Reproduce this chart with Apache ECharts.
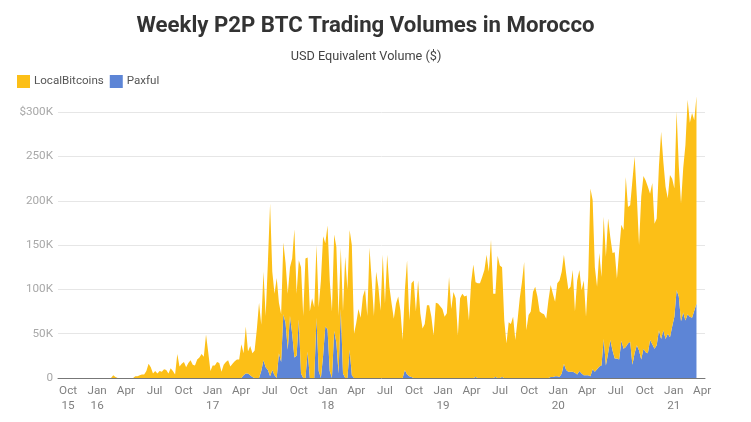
<!DOCTYPE html>
<html>
<head>
<meta charset="utf-8">
<title>Weekly P2P BTC Trading Volumes in Morocco</title>
<script src="https://cdn.jsdelivr.net/npm/echarts@6/dist/echarts.min.js"></script>
<style>
  html, body { margin: 0; background: #fff; }
  #chart { width: 751px; height: 422px; }
</style>
</head>
<body>
<div id="chart"></div>
<script>
// weekly readings in thousands of USD, first week is 30 Aug 2015
const firstWeek = Date.UTC(2015, 7, 30);
const weekMs = 7 * 24 * 3600 * 1000;

const localBitcoins = [
  0, 0, 0, 0, 0, 0, 0, 0, 0, 0,
  0, 0, 0, 0, 0, 0, 0, 0, 0, 0,
  0, 0, 0, 0, 0, 3, 1, 0, 0, 0,
  0, 0, 0, 0, 0, 2, 2, 3, 4, 4,
  8, 16, 12, 5, 8, 5, 8, 7, 10, 9,
  5, 11, 8, 4, 27, 13, 16, 18, 12, 17,
  20, 15, 14, 21, 23, 27, 24, 49, 29, 8,
  14, 14, 18, 17, 7, 15, 18, 20, 13, 16,
  19, 21, 21, 38, 25, 53, 25, 33, 27, 31,
  55, 85, 52, 100, 58, 121, 195, 111, 92, 113,
  57, 54, 81, 68, 63, 55, 85, 145, 70, 67,
  120, 70, 135, 106, 75, 90, 80, 82, 72, 110,
  135, 94, 117, 102, 75, 109, 108, 65, 69, 70,
  137, 100, 135, 147, 50, 62, 78, 68, 92, 100,
  70, 147, 110, 70, 120, 103, 76, 139, 84, 139,
  103, 84, 67, 84, 92, 76, 43, 90, 129, 63,
  106, 110, 75, 110, 73, 56, 61, 82, 82, 69,
  48, 85, 84, 81, 78, 69, 73, 114, 78, 97,
  90, 48, 90, 95, 92, 93, 65, 108, 128, 107,
  107, 107, 114, 122, 139, 120, 156, 95, 94, 138,
  127, 124, 65, 39, 63, 61, 69, 43, 65, 90,
  108, 131, 54, 71, 75, 97, 103, 92, 75, 73,
  72, 67, 88, 104, 94, 84, 105, 109, 115, 123,
  109, 93, 96, 115, 69, 106, 114, 94, 107, 66,
  111, 212, 191, 118, 93, 128, 100, 138, 123, 152,
  116, 110, 120, 90, 123, 131, 134, 192, 154, 154,
  208, 222, 168, 119, 184, 195, 194, 188, 165, 182,
  141, 143, 185, 234, 190, 172, 153, 183, 167, 145,
  202, 147, 133, 163, 198, 242, 219, 231, 215, 234
];

const paxful = [
  0, 0, 0, 0, 0, 0, 0, 0, 0, 0,
  0, 0, 0, 0, 0, 0, 0, 0, 0, 0,
  0, 0, 0, 0, 0, 0, 0, 0, 0, 0,
  0, 0, 0, 0, 0, 0, 0, 0, 0, 0,
  0, 0, 0, 0, 0, 0, 0, 0, 0, 0,
  0, 0, 0, 0, 0, 0, 0, 0, 0, 0,
  0, 0, 0, 0, 0, 0, 0, 0, 0, 0,
  0, 0, 0, 0, 0, 0, 0, 0, 0, 0,
  0, 0, 0, 0, 3, 5, 5, 3, 1, 0,
  0, 0, 8, 20, 12, 9, 2, 9, 3, 0,
  28, 18, 72, 62, 32, 70, 50, 23, 25, 66,
  5, 0, 0, 30, 0, 0, 0, 68, 8, 0,
  25, 58, 55, 8, 0, 53, 40, 5, 78, 5,
  0, 0, 32, 3, 0, 0, 0, 0, 0, 0,
  0, 0, 0, 0, 0, 0, 0, 0, 0, 0,
  0, 0, 0, 0, 0, 0, 0, 9, 4, 2,
  1, 0, 0, 0, 0, 0, 0, 0, 0, 0,
  0, 0, 0, 0, 0, 0, 0, 0, 0, 0,
  0, 0, 0, 0, 0, 0, 0, 0, 0, 1,
  0, 0, 0, 0, 0, 0, 0, 0, 1, 0,
  0, 1, 0, 0, 0, 0, 0, 0, 0, 0,
  0, 0, 0, 0, 0, 0, 0, 0, 0, 0,
  0, 0, 0, 1, 1, 2, 2, 1, 5, 16,
  9, 7, 7, 7, 6, 4, 8, 5, 3, 3,
  3, 2, 10, 7, 10, 13, 14, 44, 14, 28,
  43, 31, 22, 22, 21, 42, 33, 35, 39, 41,
  15, 28, 37, 31, 21, 33, 29, 28, 43, 38,
  33, 37, 54, 44, 54, 44, 50, 46, 58, 69,
  99, 92, 64, 74, 65, 72, 69, 68, 76, 84
];

const tickDates = [
  "2015-10-01", "2016-01-01", "2016-04-01", "2016-07-01", "2016-10-01",
  "2017-01-01", "2017-04-01", "2017-07-01", "2017-10-01",
  "2018-01-01", "2018-04-01", "2018-07-01", "2018-10-01",
  "2019-01-01", "2019-04-01", "2019-07-01", "2019-10-01",
  "2020-01-01", "2020-04-01", "2020-07-01", "2020-10-01",
  "2021-01-01", "2021-04-01"
];
const tickLabels = [
  "Oct\n15", "Jan\n16", "Apr", "Jul", "Oct",
  "Jan\n17", "Apr", "Jul", "Oct",
  "Jan\n18", "Apr", "Jul", "Oct",
  "Jan\n19", "Apr", "Jul", "Oct",
  "Jan\n20", "Apr", "Jul", "Oct",
  "Jan\n21", "Apr"
];
const tickValues = tickDates.map((d) => Date.parse(d + "T00:00:00Z"));
const weeks = localBitcoins.map((_, i) => firstWeek + i * weekMs);

const fontFamily = "Roboto, sans-serif";
const chart = echarts.init(document.getElementById("chart"), null, { renderer: "canvas" });

chart.setOption({
  animation: false,
  backgroundColor: "#fff",
  textStyle: { fontFamily },
  title: [
    {
      text: "Weekly P2P BTC Trading Volumes in Morocco",
      left: 360.5, top: 10, textAlign: "center",
      textStyle: { fontFamily, fontSize: 22.2, fontWeight: 700, color: "#333" },
    },
    {
      text: "USD Equivalent Volume ($)",
      left: 361, top: 45, textAlign: "center",
      textStyle: { fontFamily, fontSize: 12.7, fontWeight: 400, color: "#444" },
    },
  ],
  legend: {
    left: 12, top: 70,
    icon: "rect",
    itemWidth: 13, itemHeight: 13, itemGap: 6,
    selectedMode: false,
    data: ["LocalBitcoins", "Paxful"],
    textStyle: { fontFamily, fontSize: 11.6, color: "#555", padding: [0, 0, 0, -1] },
  },
  grid: { left: 58, right: 46, top: 94.5, bottom: 44 },
  xAxis: {
    type: "value",
    min: firstWeek,
    max: Date.UTC(2021, 3, 10),
    z: 5,
    axisLine: { show: true, onZero: false, lineStyle: { color: "#777", width: 1 } },
    axisTick: { show: false },
    splitLine: { show: false },
    axisLabel: {
      customValues: tickValues,
      hideOverlap: false,
      color: "#808080",
      fontSize: 11.7,
      lineHeight: 15,
      margin: 6,
      formatter: (value) => tickLabels[tickValues.indexOf(value)] || "",
    },
  },
  yAxis: {
    type: "value",
    min: 0,
    max: 320,
    interval: 50,
    axisLine: { show: false },
    axisTick: { show: false },
    splitLine: { showMaxLine: false, lineStyle: { color: "#e6e6e6", width: 1 } },
    axisLabel: {
      showMaxLabel: false,
      color: "#a8a8a8",
      fontSize: 11.7,
      margin: 5,
      padding: [2, 0, 0, 0],
      formatter: (value) => (value === 0 ? "0" : value === 300 ? "$300K" : value + "K"),
    },
  },
  series: [
    {
      name: "Paxful",
      type: "line",
      stack: "volume",
      // the stack adds up the first value column, so usd goes before week
      encode: { x: 1, y: 0 },
      data: weeks.map((t, i) => [paxful[i], t]),
      symbol: "none",
      lineStyle: { width: 0 },
      itemStyle: { color: "#5d85d6" },
      areaStyle: { color: "#5d85d6", opacity: 1 },
    },
    {
      name: "LocalBitcoins",
      type: "line",
      stack: "volume",
      encode: { x: 1, y: 0 },
      data: weeks.map((t, i) => [localBitcoins[i], t]),
      symbol: "none",
      lineStyle: { width: 0 },
      itemStyle: { color: "#fcbf17" },
      areaStyle: { color: "#fcbf17", opacity: 1 },
    },
  ],
});
window.addEventListener("resize", () => chart.resize());
</script>
</body>
</html>
